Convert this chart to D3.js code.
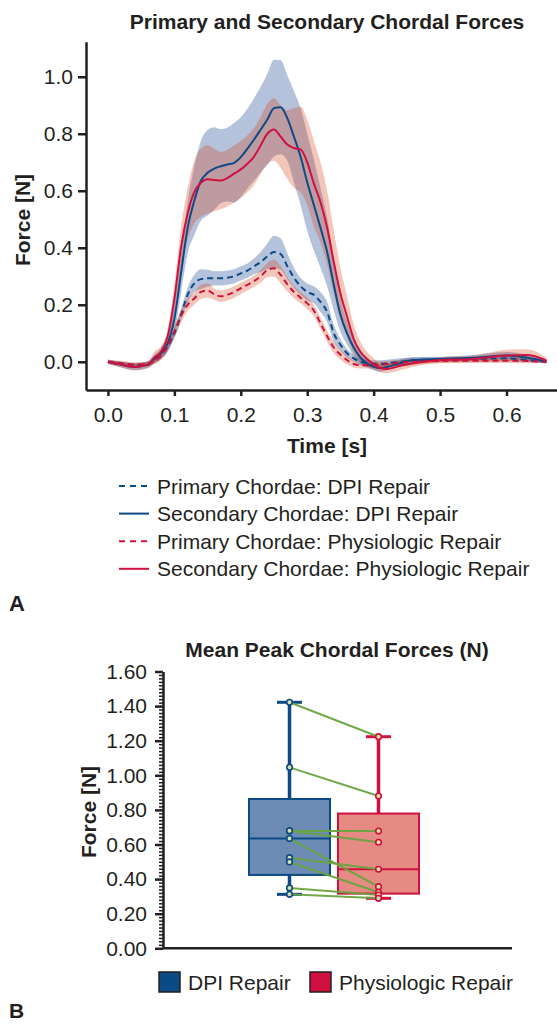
<!DOCTYPE html>
<html>
<head>
<meta charset="utf-8">
<script src="https://cdn.jsdelivr.net/npm/d3@7"></script>
<style>
  body { margin: 0; background: #fff; }
  svg text { font-family: "Liberation Sans", Arial, Helvetica, sans-serif; fill: #231f20; }
</style>
</head>
<body>
<div id="chart"></div>
<script>
// ---- data ----
var times = [0, 0.02, 0.04, 0.06, 0.07, 0.08, 0.09, 0.10, 0.11, 0.12, 0.13, 0.14, 0.15, 0.16, 0.17, 0.18, 0.19, 0.20, 0.21, 0.22, 0.23, 0.24, 0.25, 0.26, 0.27, 0.28, 0.29, 0.30, 0.31, 0.32, 0.33, 0.34, 0.35, 0.36, 0.37, 0.38, 0.39, 0.40, 0.41, 0.42, 0.44, 0.46, 0.50, 0.55, 0.60, 0.63, 0.66];

var secDpi = [0, -0.01, -0.018, -0.01, 0.01, 0.03, 0.065, 0.15, 0.31, 0.47, 0.565, 0.635, 0.663, 0.678, 0.686, 0.692, 0.698, 0.718, 0.748, 0.78, 0.815, 0.85, 0.89, 0.893, 0.855, 0.79, 0.72, 0.63, 0.55, 0.47, 0.385, 0.27, 0.165, 0.10, 0.05, 0.015, -0.005, -0.018, -0.023, -0.018, -0.005, 0.006, 0.01, 0.014, 0.022, 0.015, 0];
var secDpiSd = [0.008, 0.01, 0.012, 0.012, 0.015, 0.02, 0.03, 0.05, 0.07, 0.09, 0.12, 0.14, 0.15, 0.145, 0.13, 0.13, 0.14, 0.14, 0.14, 0.145, 0.15, 0.16, 0.17, 0.165, 0.15, 0.16, 0.17, 0.17, 0.16, 0.14, 0.12, 0.09, 0.06, 0.04, 0.03, 0.02, 0.015, 0.012, 0.012, 0.012, 0.012, 0.01, 0.008, 0.01, 0.012, 0.01, 0.005];

var secPhy = [0, -0.01, -0.018, -0.01, 0.015, 0.035, 0.09, 0.22, 0.40, 0.52, 0.595, 0.628, 0.64, 0.638, 0.636, 0.645, 0.66, 0.675, 0.695, 0.72, 0.76, 0.80, 0.815, 0.79, 0.762, 0.75, 0.745, 0.70, 0.625, 0.56, 0.47, 0.35, 0.24, 0.158, 0.08, 0.035, 0.01, -0.008, -0.022, -0.025, -0.014, -0.005, 0.006, 0.01, 0.022, 0.024, 0.005];
var secPhySd = [0.008, 0.01, 0.012, 0.012, 0.02, 0.02, 0.025, 0.05, 0.07, 0.09, 0.11, 0.12, 0.12, 0.11, 0.10, 0.10, 0.10, 0.10, 0.10, 0.10, 0.10, 0.105, 0.11, 0.11, 0.12, 0.14, 0.15, 0.15, 0.15, 0.14, 0.13, 0.11, 0.09, 0.07, 0.05, 0.035, 0.025, 0.02, 0.015, 0.015, 0.015, 0.012, 0.01, 0.012, 0.02, 0.02, 0.01];

var priDpi = [0, -0.008, -0.012, -0.008, 0.008, 0.025, 0.055, 0.10, 0.165, 0.235, 0.275, 0.29, 0.293, 0.293, 0.293, 0.295, 0.30, 0.31, 0.32, 0.335, 0.35, 0.37, 0.385, 0.378, 0.335, 0.295, 0.265, 0.245, 0.235, 0.21, 0.175, 0.10, 0.06, 0.03, 0.012, 0.0, -0.005, -0.007, -0.007, -0.005, 0.0, 0.005, 0.007, 0.01, 0.012, 0.006, 0];
var priDpiSd = [0.005, 0.008, 0.008, 0.008, 0.012, 0.015, 0.015, 0.018, 0.02, 0.025, 0.03, 0.035, 0.03, 0.025, 0.025, 0.025, 0.025, 0.025, 0.025, 0.028, 0.035, 0.045, 0.057, 0.055, 0.045, 0.035, 0.03, 0.03, 0.03, 0.035, 0.035, 0.03, 0.02, 0.015, 0.012, 0.012, 0.012, 0.012, 0.012, 0.012, 0.012, 0.01, 0.008, 0.008, 0.01, 0.008, 0.005];

var priPhy = [0, -0.005, -0.01, -0.008, 0.004, 0.022, 0.055, 0.105, 0.16, 0.2, 0.222, 0.245, 0.25, 0.237, 0.23, 0.235, 0.245, 0.258, 0.27, 0.283, 0.3, 0.322, 0.328, 0.305, 0.272, 0.245, 0.225, 0.205, 0.18, 0.135, 0.09, 0.05, 0.025, 0.006, -0.008, -0.012, -0.012, -0.012, -0.01, -0.008, -0.003, 0.0, 0.003, 0.004, 0.004, 0.003, 0];
var priPhySd = [0.005, 0.008, 0.008, 0.008, 0.012, 0.015, 0.018, 0.02, 0.022, 0.022, 0.022, 0.025, 0.025, 0.02, 0.02, 0.02, 0.02, 0.02, 0.02, 0.02, 0.022, 0.025, 0.03, 0.03, 0.025, 0.022, 0.02, 0.02, 0.02, 0.02, 0.02, 0.02, 0.018, 0.015, 0.012, 0.012, 0.012, 0.012, 0.012, 0.012, 0.01, 0.01, 0.008, 0.008, 0.008, 0.008, 0.005];

var timeTicks = [0, 0.1, 0.2, 0.3, 0.4, 0.5, 0.6];
var forceTicks = [0, 0.2, 0.4, 0.6, 0.8, 1.0];

var groups = ["DPI Repair", "Physiologic Repair"];
// per-subject mean peak force, same subject order in both arrays
var dpiPeak = [1.422, 1.046, 0.678, 0.680, 0.634, 0.524, 0.499, 0.349, 0.312];
var physioPeak = [1.223, 0.880, 0.678, 0.613, 0.356, 0.457, 0.324, 0.308, 0.289];
var peakTicks = [0, 0.2, 0.4, 0.6, 0.8, 1.0, 1.2, 1.4, 1.6];

var blue = "#0c4a85", red = "#d0103f";

var width = 557, height = 1024;

var svg = d3.select("#chart").append("svg")
    .attr("width", width)
    .attr("height", height);

svg.append("rect").attr("width", width).attr("height", height).attr("fill", "#fff");

// ================= panel A =================
var x = d3.scaleLinear().domain([-0.033, 0.676]).range([86, 557]);
var y = d3.scaleLinear().domain([-0.099, 1.123]).range([390, 41.7]);

var series = [
    {name: "Primary Chordae: DPI Repair", mean: priDpi, sd: priDpiSd, color: blue, band: "#053489", dash: "6,4"},
    {name: "Secondary Chordae: DPI Repair", mean: secDpi, sd: secDpiSd, color: blue, band: "#053489", dash: null},
    {name: "Primary Chordae: Physiologic Repair", mean: priPhy, sd: priPhySd, color: red, band: "#d7411c", dash: "6,4"},
    {name: "Secondary Chordae: Physiologic Repair", mean: secPhy, sd: secPhySd, color: red, band: "#d7411c", dash: null}
];

var area = d3.area()
    .x(function(d, i) { return x(times[i]) })
    .y0(function(d) { return y(d[0] - d[1]) })
    .y1(function(d) { return y(d[0] + d[1]) })
    .curve(d3.curveMonotoneX);

var line = d3.line()
    .x(function(d, i) { return x(times[i]) })
    .y(function(d) { return y(d) })
    .curve(d3.curveMonotoneX);

var gA = svg.append("g");

// bands: blue first, red over it
[1, 0, 3, 2].forEach(function(k) {
    var s = series[k];
    gA.append("path")
        .datum(s.mean.map(function(m, i) { return [m, s.sd[i]] }))
        .attr("d", area)
        .attr("fill", s.band)
        .attr("fill-opacity", 0.3);
});

series.forEach(function(s) {
    gA.append("path")
        .datum(s.mean)
        .attr("d", line)
        .attr("fill", "none")
        .attr("stroke", s.color)
        .attr("stroke-width", 2)
        .attr("stroke-dasharray", s.dash);
});

var xAxis = svg.append("g")
    .attr("transform", "translate(0,390)")
    .call(d3.axisBottom(x).tickValues(timeTicks).tickFormat(d3.format(".1f")).tickSize(6).tickSizeOuter(0).tickPadding(11));

var yAxis = svg.append("g")
    .attr("transform", "translate(86,0)")
    .call(d3.axisLeft(y).tickValues(forceTicks).tickFormat(d3.format(".1f")).tickSize(8).tickSizeOuter(0).tickPadding(5));

[xAxis, yAxis].forEach(function(a) {
    a.select(".domain").attr("stroke", "#231f20").attr("stroke-width", 2.5);
    a.selectAll(".tick line").attr("stroke", "#231f20").attr("stroke-width", 2.5);
    a.selectAll(".tick text").style("font-size", "21px").attr("fill", "#231f20");
});

svg.append("text").attr("x", 327).attr("y", 29).attr("text-anchor", "middle")
    .style("font-size", "21px").style("font-weight", "bold").text("Primary and Secondary Chordal Forces");
svg.append("text").attr("x", 327).attr("y", 453).attr("text-anchor", "middle")
    .style("font-size", "21px").style("font-weight", "bold").text("Time [s]");
svg.append("text").attr("transform", "translate(30,220) rotate(-90)").attr("text-anchor", "middle")
    .style("font-size", "21px").style("font-weight", "bold").text("Force [N]");

// legend A
var legA = svg.append("g");
series.forEach(function(s, i) {
    var yy = 486 + i * 27.6;
    legA.append("line").attr("x1", 119).attr("x2", 149).attr("y1", yy).attr("y2", yy)
        .attr("stroke", s.color).attr("stroke-width", 2).attr("stroke-dasharray", s.dash ? "6,5" : null);
    legA.append("text").attr("x", 157).attr("y", yy + 7.5)
        .style("font-size", "21px").text(s.name);
});

svg.append("text").attr("x", 9).attr("y", 611).style("font-size", "22px").style("font-weight", "bold").text("A");

// ================= panel B =================
var xB = d3.scaleBand().domain(groups).range([249, 419]).paddingInner(0.09);
var yB = d3.scaleLinear().domain([0, 1.6]).range([948.3, 671.5]);

function median(a) {
    var n = a.length, m = Math.floor(n / 2);
    return n % 2 ? a[m] : (a[m - 1] + a[m]) / 2;
}
function boxStats(vals) {
    var s = vals.slice().sort(d3.ascending), n = s.length, h = Math.floor(n / 2);
    return {
        min: s[0], max: s[n - 1], med: median(s),
        q1: median(s.slice(0, h)), q3: median(s.slice(n - h))
    };
}

var boxes = [
    {group: groups[0], vals: dpiPeak, stroke: blue, fill: "#6b8ab4"},
    {group: groups[1], vals: physioPeak, stroke: red, fill: "#e58b83"}
];

var gB = svg.append("g");

boxes.forEach(function(b) {
    var st = boxStats(b.vals), x0 = xB(b.group), bw = xB.bandwidth(), cx = x0 + bw / 2;
    gB.append("line").attr("x1", cx).attr("x2", cx).attr("y1", yB(st.q3)).attr("y2", yB(st.max))
        .attr("stroke", b.stroke).attr("stroke-width", 3.5);
    gB.append("line").attr("x1", cx).attr("x2", cx).attr("y1", yB(st.q1)).attr("y2", yB(st.min))
        .attr("stroke", b.stroke).attr("stroke-width", 3.5);
    [st.max, st.min].forEach(function(v) {
        gB.append("line").attr("x1", cx - 12.5).attr("x2", cx + 12.5).attr("y1", yB(v)).attr("y2", yB(v))
            .attr("stroke", b.stroke).attr("stroke-width", 3);
    });
    gB.append("rect").attr("x", x0).attr("y", yB(st.q3)).attr("width", bw).attr("height", yB(st.q1) - yB(st.q3))
        .attr("fill", b.fill).attr("stroke", b.stroke).attr("stroke-width", 2);
    gB.append("line").attr("x1", x0).attr("x2", x0 + bw).attr("y1", yB(st.med)).attr("y2", yB(st.med))
        .attr("stroke", b.stroke).attr("stroke-width", 2);
});

var cx0 = xB(groups[0]) + xB.bandwidth() / 2, cx1 = xB(groups[1]) + xB.bandwidth() / 2;

dpiPeak.forEach(function(v, i) {
    gB.append("line").attr("x1", cx0).attr("x2", cx1).attr("y1", yB(v)).attr("y2", yB(physioPeak[i]))
        .attr("stroke", "#68a340").attr("stroke-width", 2).attr("stroke-opacity", 0.95);
});

boxes.forEach(function(b, k) {
    var cx = k == 0 ? cx0 : cx1;
    gB.selectAll(null).data(b.vals).enter().append("circle")
        .attr("cx", cx).attr("cy", function(d) { return yB(d) }).attr("r", 2.8)
        .attr("fill", "#d4e2ae").attr("stroke", b.stroke).attr("stroke-width", 1.6);
});

var yAxB = svg.append("g").attr("transform", "translate(163,0)")
    .call(d3.axisLeft(yB).tickValues(peakTicks).tickFormat(d3.format(".2f")).tickSize(8).tickSizeOuter(0).tickPadding(8));
yAxB.select(".domain").attr("stroke", "#231f20").attr("stroke-width", 2.5);
yAxB.selectAll(".tick line").attr("stroke", "#231f20").attr("stroke-width", 2.5);
yAxB.selectAll(".tick text").style("font-size", "21px").attr("fill", "#231f20");

var minorTicks = d3.range(0, 80).map(function(i) { return i * 0.02 }).filter(function(v, i) { return i % 10 != 0 });
svg.append("g").attr("transform", "translate(163,0)")
    .call(d3.axisLeft(yB).tickValues(minorTicks).tickFormat("").tickSize(4).tickSizeOuter(0))
    .call(function(g) { g.select(".domain").remove() })
    .selectAll(".tick line").attr("stroke", "#231f20").attr("stroke-width", 1.5);

svg.append("line").attr("x1", 163).attr("x2", 512).attr("y1", yB(0)).attr("y2", yB(0))
    .attr("stroke", "#231f20").attr("stroke-width", 2.5);

svg.append("text").attr("x", 337).attr("y", 657).attr("text-anchor", "middle")
    .style("font-size", "21px").style("font-weight", "bold").text("Mean Peak Chordal Forces (N)");
svg.append("text").attr("transform", "translate(96,812) rotate(-90)").attr("text-anchor", "middle")
    .style("font-size", "21px").style("font-weight", "bold").text("Force [N]");

// legend B
var legB = [{x: 159, color: blue}, {x: 310, color: red}];
legB.forEach(function(l, i) {
    svg.append("rect").attr("x", l.x).attr("y", 972).attr("width", 21).attr("height", 20)
        .attr("fill", l.color).attr("stroke", "#231f20").attr("stroke-width", 1.5);
    svg.append("text").attr("x", l.x + 29).attr("y", 990).style("font-size", "21px").text(groups[i]);
});

svg.append("text").attr("x", 9).attr("y", 1018).style("font-size", "21px").style("font-weight", "bold").text("B");
</script>
</body>
</html>
